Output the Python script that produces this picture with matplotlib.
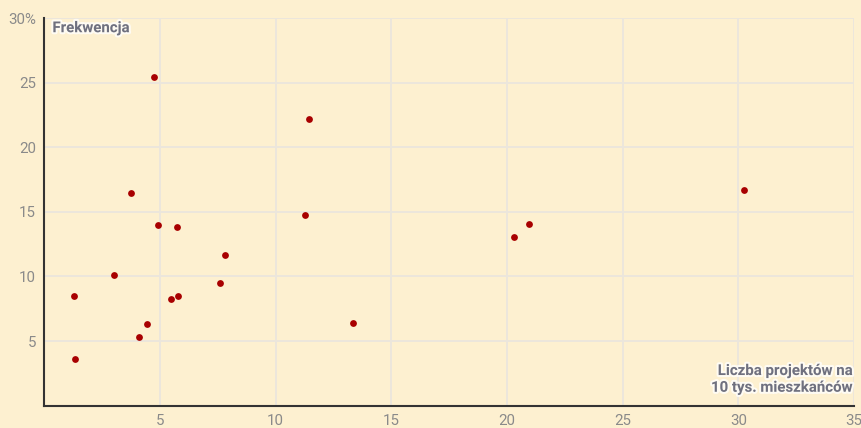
import matplotlib.pyplot as plt
import matplotlib.patheffects as pe

# projects per 10k residents vs. turnout [%]
projekty = [1.30, 1.34, 3.01, 3.75, 4.74, 4.08, 4.43, 4.90, 5.75, 5.48, 5.77,
            7.60, 7.80, 11.26, 11.44, 13.33, 20.32, 20.96, 30.26]
frekwencja = [8.49, 3.61, 10.09, 16.49, 25.47, 5.31, 6.29, 13.98, 13.80, 8.28, 8.51,
              9.49, 11.69, 14.75, 22.17, 6.37, 13.08, 14.06, 16.67]

x_ticks = [5, 10, 15, 20, 25, 30, 35]
y_ticks = [5, 10, 15, 20, 25, 30]
y_labels = ["5", "10", "15", "20", "25", "30%"]

bg = "#fdf0d0"
plt.rcParams["font.family"] = ["Roboto", "DejaVu Sans"]

fig = plt.figure(figsize=(8.61, 4.28), dpi=100, facecolor=bg)
ax = fig.add_axes([0.0515, 0.0523, 0.9405, 0.9054])
ax.set_facecolor(bg)

ax.scatter(projekty, frekwencja, s=24, color="#a80000", zorder=3, linewidths=0)

ax.set_xlim(0, 35)
ax.set_ylim(0, 30)
ax.set_xticks(x_ticks)
ax.set_yticks(y_ticks)
ax.set_yticklabels(y_labels)
ax.grid(True, color="#ebe6dd", linewidth=1.3)
ax.set_axisbelow(True)

ax.tick_params(length=0, labelsize=10.8, colors="#8a8a8a")
ax.tick_params(axis="x", pad=6)
ax.tick_params(axis="y", pad=6)

for side in ["top", "right"]:
    ax.spines[side].set_visible(False)
for side in ["left", "bottom"]:
    ax.spines[side].set_color("#333333")
    ax.spines[side].set_linewidth(1.5)

halo = [pe.withStroke(linewidth=3, foreground="white", alpha=0.75)]
ax.text(0.01, 0.992, "Frekwencja", transform=ax.transAxes, ha="left", va="top",
        fontsize=10.8, fontweight="bold", color="#6f707e", path_effects=halo)
ax.text(0.998, 0.028, "Liczba projektów na\n10 tys. mieszkańców", transform=ax.transAxes,
        ha="right", va="bottom", fontsize=10.8, fontweight="bold", color="#6f707e",
        linespacing=1.25, path_effects=halo)

plt.savefig("out.png", dpi=100, facecolor=bg)
